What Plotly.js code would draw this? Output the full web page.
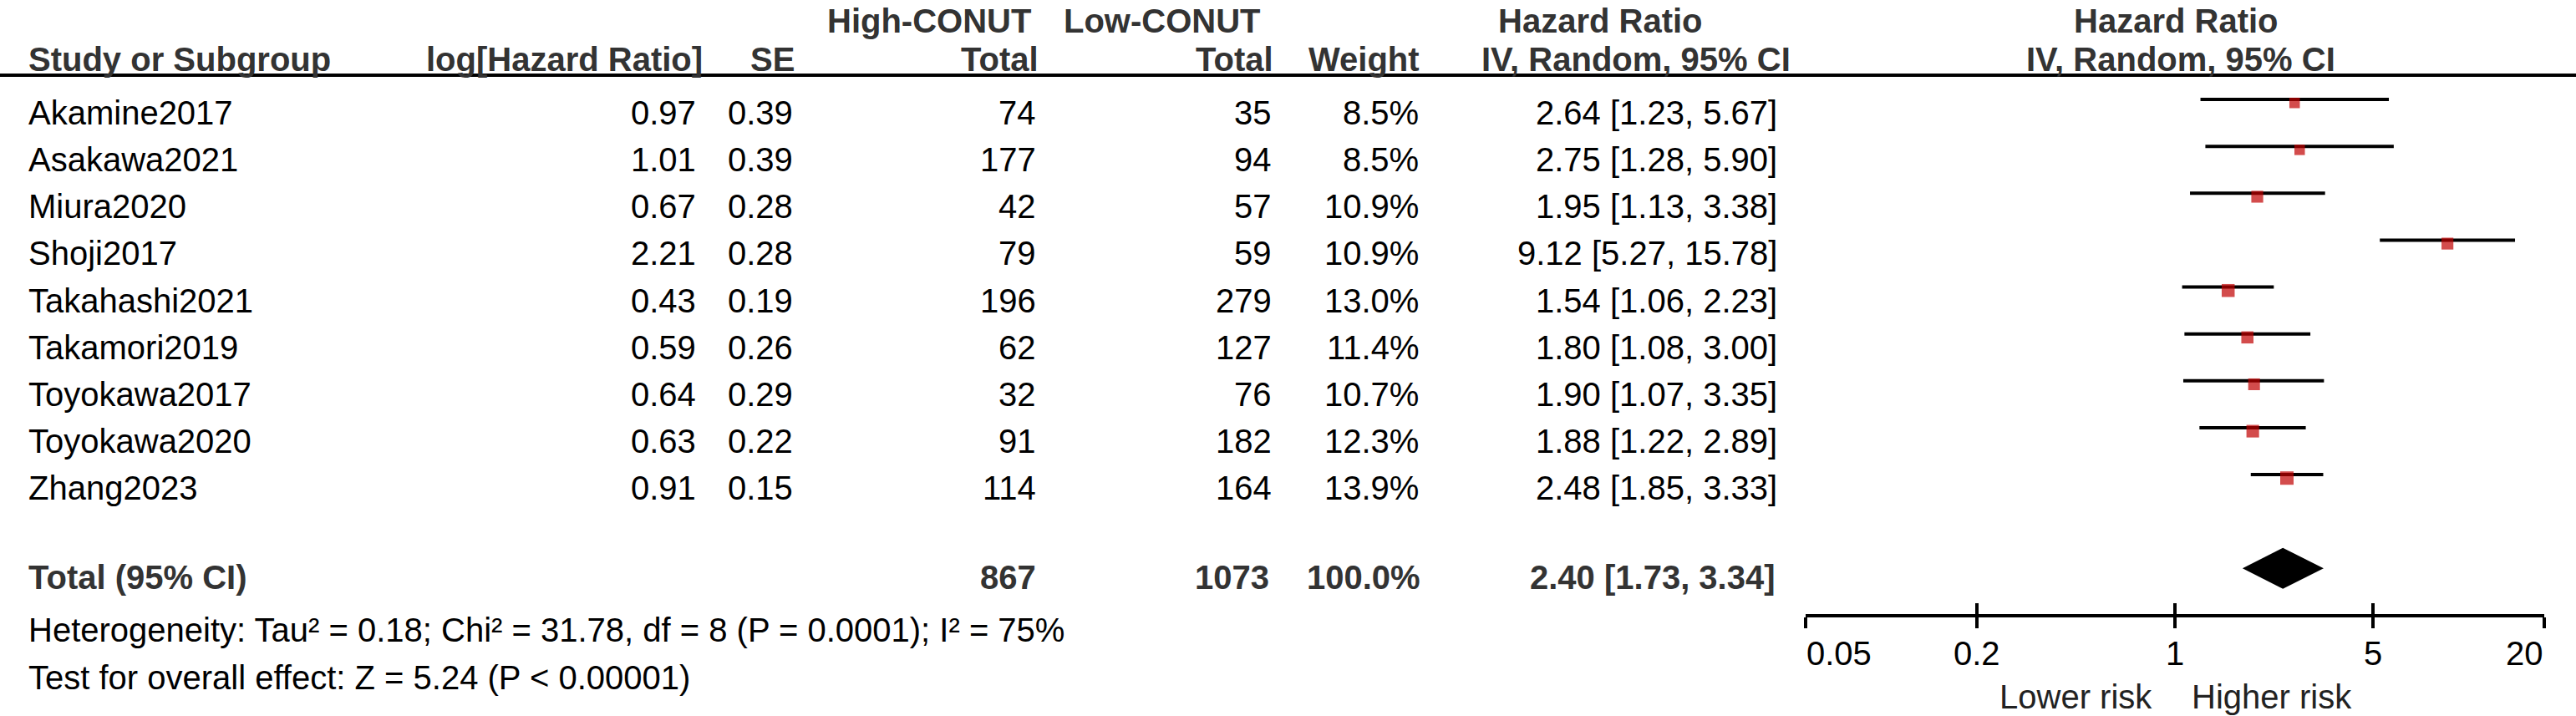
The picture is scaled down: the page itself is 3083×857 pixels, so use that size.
<!DOCTYPE html>
<html>
<head>
<meta charset="utf-8">
<script src="https://cdn.plot.ly/plotly-3.0.1.min.js"></script>
<style>
  html, body { margin: 0; padding: 0; background: #ffffff; overflow: hidden; }
  #chart { width: 3083px; height: 857px; }
</style>
</head>
<body>
<div id="chart"></div>
<script>
// ---------------- data ----------------
const studies   = ['Akamine2017','Asakawa2021','Miura2020','Shoji2017','Takahashi2021','Takamori2019','Toyokawa2017','Toyokawa2020','Zhang2023'];
const logHR     = [0.97, 1.01, 0.67, 2.21, 0.43, 0.59, 0.64, 0.63, 0.91];
const seLogHR   = [0.39, 0.39, 0.28, 0.28, 0.19, 0.26, 0.29, 0.22, 0.15];
const highTotal = [74, 177, 42, 79, 196, 62, 32, 91, 114];
const lowTotal  = [35, 94, 57, 59, 279, 127, 76, 182, 164];
const weights   = [8.5, 8.5, 10.9, 10.9, 13.0, 11.4, 10.7, 12.3, 13.9];
const hrValues  = [2.64, 2.75, 1.95, 9.12, 1.54, 1.80, 1.90, 1.88, 2.48];
const ciLower   = [1.23, 1.28, 1.13, 5.27, 1.06, 1.08, 1.07, 1.22, 1.85];
const ciUpper   = [5.67, 5.90, 3.38, 15.78, 2.23, 3.00, 3.35, 2.89, 3.33];

const totalLabel     = 'Total (95% CI)';
const totalHigh      = 867;
const totalLow       = 1073;
const totalWeight    = 100.0;
const totalHR        = 2.40;
const totalCiLower   = 1.73;
const totalCiUpper   = 3.34;

const heterogeneityText = 'Heterogeneity: Tau² = 0.18; Chi² = 31.78, df = 8 (P = 0.0001); I² = 75%';
const overallEffectText = 'Test for overall effect: Z = 5.24 (P < 0.00001)';

const tickValues = [0.05, 0.2, 1, 5, 20];
const tickLabels = ['0.05', '0.2', '1', '5', '20'];
const favoursLeft  = 'Lower risk';
const favoursRight = 'Higher risk';

// ---------------- layout helpers ----------------
const W = 3083, H = 857;
const FONT = 'Liberation Sans, Arial, Helvetica, sans-serif';
const FS = 40;
const px = v => v / W;            // horizontal pixel -> paper
const py = v => 1 - v / H;        // vertical pixel -> paper

const ROW_PX = 56.125;            // pixels per row
const ROW0_PX = 119;              // first CI line
const DOM_TOP = 90, DOM_BOT = 735;
const yIdx = p => (p - ROW0_PX) / ROW_PX;
const TOTAL_IDX = 10;
const TXT_OFF = 0.285;            // text centre below CI line
const SQ_OFF = 0.075;             // square centre below CI line

const ann = [];
function txt(text, x, y, opts) {
  opts = opts || {};
  ann.push(Object.assign({
    text: text, x: x, y: y, xref: 'paper', yref: 'paper',
    xanchor: 'right', yanchor: 'middle', showarrow: false, borderpad: 0,
    font: {family: FONT, size: FS, color: opts.bold ? '#333333' : '#000000'}
  }, opts.extra || {}, {
    text: opts.bold ? '<b>' + text + '</b>' : text
  }));
}

// headers
const HEAD1 = 25, HEAD2 = 71;
txt('High-CONUT', px(1235), py(HEAD1), {bold: true});
txt('Low-CONUT', px(1510), py(HEAD1), {bold: true});
txt('Hazard Ratio', px(1915), py(HEAD1), {bold: true, extra: {xanchor: 'center'}});
txt('Hazard Ratio', px(2604), py(HEAD1), {bold: true, extra: {xanchor: 'center'}});

txt('Study or Subgroup', px(33), py(HEAD2), {bold: true, extra: {xanchor: 'left'}});
txt('log[Hazard Ratio]', px(842), py(HEAD2), {bold: true});
txt('SE', px(952), py(HEAD2), {bold: true});
txt('Total', px(1244), py(HEAD2), {bold: true});
txt('Total', px(1525), py(HEAD2), {bold: true});
txt('Weight', px(1700), py(HEAD2), {bold: true});
txt('IV, Random, 95% CI', px(2144), py(HEAD2), {bold: true});
txt('IV, Random, 95% CI', px(2610), py(HEAD2), {bold: true, extra: {xanchor: 'center'}});

// study rows
const ciStr = (h, l, u) => h.toFixed(2) + ' [' + l.toFixed(2) + ', ' + u.toFixed(2) + ']';
studies.forEach((s, i) => {
  const yr = {yref: 'y'};
  const y = i + TXT_OFF;
  txt(s, px(33), y, {extra: Object.assign({xanchor: 'left'}, yr)});
  txt(logHR[i].toFixed(2), px(834), y, {extra: yr});
  txt(seLogHR[i].toFixed(2), px(950), y, {extra: yr});
  txt(String(highTotal[i]), px(1241), y, {extra: yr});
  txt(String(lowTotal[i]), px(1523), y, {extra: yr});
  txt(weights[i].toFixed(1) + '%', px(1699), y, {extra: yr});
  txt(ciStr(hrValues[i], ciLower[i], ciUpper[i]), px(2128), y, {extra: yr});
});

// total row
{
  const yr = {yref: 'y'};
  const y = TOTAL_IDX + 0.2;
  txt(totalLabel, px(33), y, {bold: true, extra: Object.assign({xanchor: 'left'}, yr)});
  txt(String(totalHigh), px(1241), y, {bold: true, extra: yr});
  txt(String(totalLow), px(1520), y, {bold: true, extra: yr});
  txt(totalWeight.toFixed(1) + '%', px(1701), y, {bold: true, extra: yr});
  txt(ciStr(totalHR, totalCiLower, totalCiUpper), px(2126), y, {bold: true, extra: yr});
}

// footers
txt(heterogeneityText, px(33), py(754), {extra: {xanchor: 'left'}});
txt(overallEffectText, px(33), py(811), {extra: {xanchor: 'left'}});

// tick labels
tickValues.forEach((v, k) => {
  const anchor = k === 0 ? 'left' : (k === tickValues.length - 1 ? 'right' : 'center');
  ann.push({
    text: tickLabels[k], x: Math.log10(v), xref: 'x', y: py(782), yref: 'paper',
    xanchor: anchor, yanchor: 'middle', showarrow: false, borderpad: 0,
    font: {family: FONT, size: FS, color: '#000000'}
  });
});
ann.push({text: favoursLeft, x: 0, xref: 'x', xshift: -26, y: py(834), yref: 'paper',
  xanchor: 'right', yanchor: 'middle', showarrow: false, borderpad: 0,
  font: {family: FONT, size: FS, color: '#222222'}});
ann.push({text: favoursRight, x: 0, xref: 'x', xshift: 19, y: py(834), yref: 'paper',
  xanchor: 'left', yanchor: 'middle', showarrow: false, borderpad: 0,
  font: {family: FONT, size: FS, color: '#222222'}});

// ---------------- traces ----------------
const ciX = [], ciY = [];
studies.forEach((s, i) => { ciX.push(ciLower[i], ciUpper[i], null); ciY.push(i, i, null); });

const ciTrace = {
  type: 'scatter', mode: 'lines', x: ciX, y: ciY, xaxis: 'x', yaxis: 'y',
  line: {color: '#000000', width: 4}, hoverinfo: 'skip', showlegend: false, cliponaxis: false
};
const sqTrace = {
  type: 'scatter', mode: 'markers', x: hrValues, y: studies.map((s, i) => i + SQ_OFF),
  marker: {symbol: 'square', color: '#C00000', size: weights.map(w => 4.3 * Math.sqrt(w)), line: {width: 0}},
  hoverinfo: 'skip', showlegend: false, cliponaxis: false
};
const DIA_H = 0.437;
const diamond = {
  type: 'scatter', mode: 'lines',
  x: [totalCiLower, totalHR, totalCiUpper, totalHR, totalCiLower],
  y: [TOTAL_IDX, TOTAL_IDX - DIA_H, TOTAL_IDX, TOTAL_IDX + DIA_H, TOTAL_IDX],
  fill: 'toself', fillcolor: '#000000', line: {color: '#000000', width: 0},
  hoverinfo: 'skip', showlegend: false
};
// invisible trace on overlay axis so it is rendered
const overlayTrace = {
  type: 'scatter', mode: 'markers', x: [1], y: [0], xaxis: 'x2', yaxis: 'y',
  marker: {opacity: 0}, hoverinfo: 'skip', showlegend: false
};

const xRange = [Math.log10(tickValues[0]), Math.log10(tickValues[tickValues.length - 1])];
const layout = {
  width: W, height: H,
  margin: {l: 0, r: 0, t: 0, b: 0, pad: 0},
  paper_bgcolor: '#ffffff', plot_bgcolor: '#ffffff',
  showlegend: false,
  xaxis: {
    type: 'log', range: xRange, domain: [px(2161), px(3045)],
    tickvals: tickValues, ticks: 'outside', ticklen: 13, tickwidth: 4, tickcolor: '#000000',
    showticklabels: false, showgrid: false, zeroline: false,
    showline: true, linewidth: 4, linecolor: '#000000', anchor: 'y', fixedrange: true
  },
  xaxis2: {
    type: 'log', range: xRange, domain: [px(2161), px(3045)], overlaying: 'x', anchor: 'y',
    tickvals: tickValues, ticks: 'inside', ticklen: 13, tickwidth: 4, tickcolor: '#000000',
    showticklabels: false, showgrid: false, zeroline: false, showline: false, fixedrange: true
  },
  yaxis: {
    range: [yIdx(DOM_BOT), yIdx(DOM_TOP)], domain: [py(DOM_BOT), py(DOM_TOP)],
    showticklabels: false, showgrid: false, zeroline: false, showline: false, ticks: '',
    fixedrange: true
  },
  shapes: [
    {type: 'line', xref: 'paper', yref: 'paper', x0: 0, x1: 1, y0: py(90), y1: py(90),
     line: {color: '#000000', width: 4}},
    {type: 'line', xref: 'x', yref: 'y domain', x0: 0, x1: 0, y0: 0, y1: 1,
     line: {color: '#333333', width: 3}}
  ],
  annotations: ann
};

Plotly.newPlot('chart', [ciTrace, sqTrace, diamond, overlayTrace], layout, {staticPlot: true, displayModeBar: false});
</script>
</body>
</html>
